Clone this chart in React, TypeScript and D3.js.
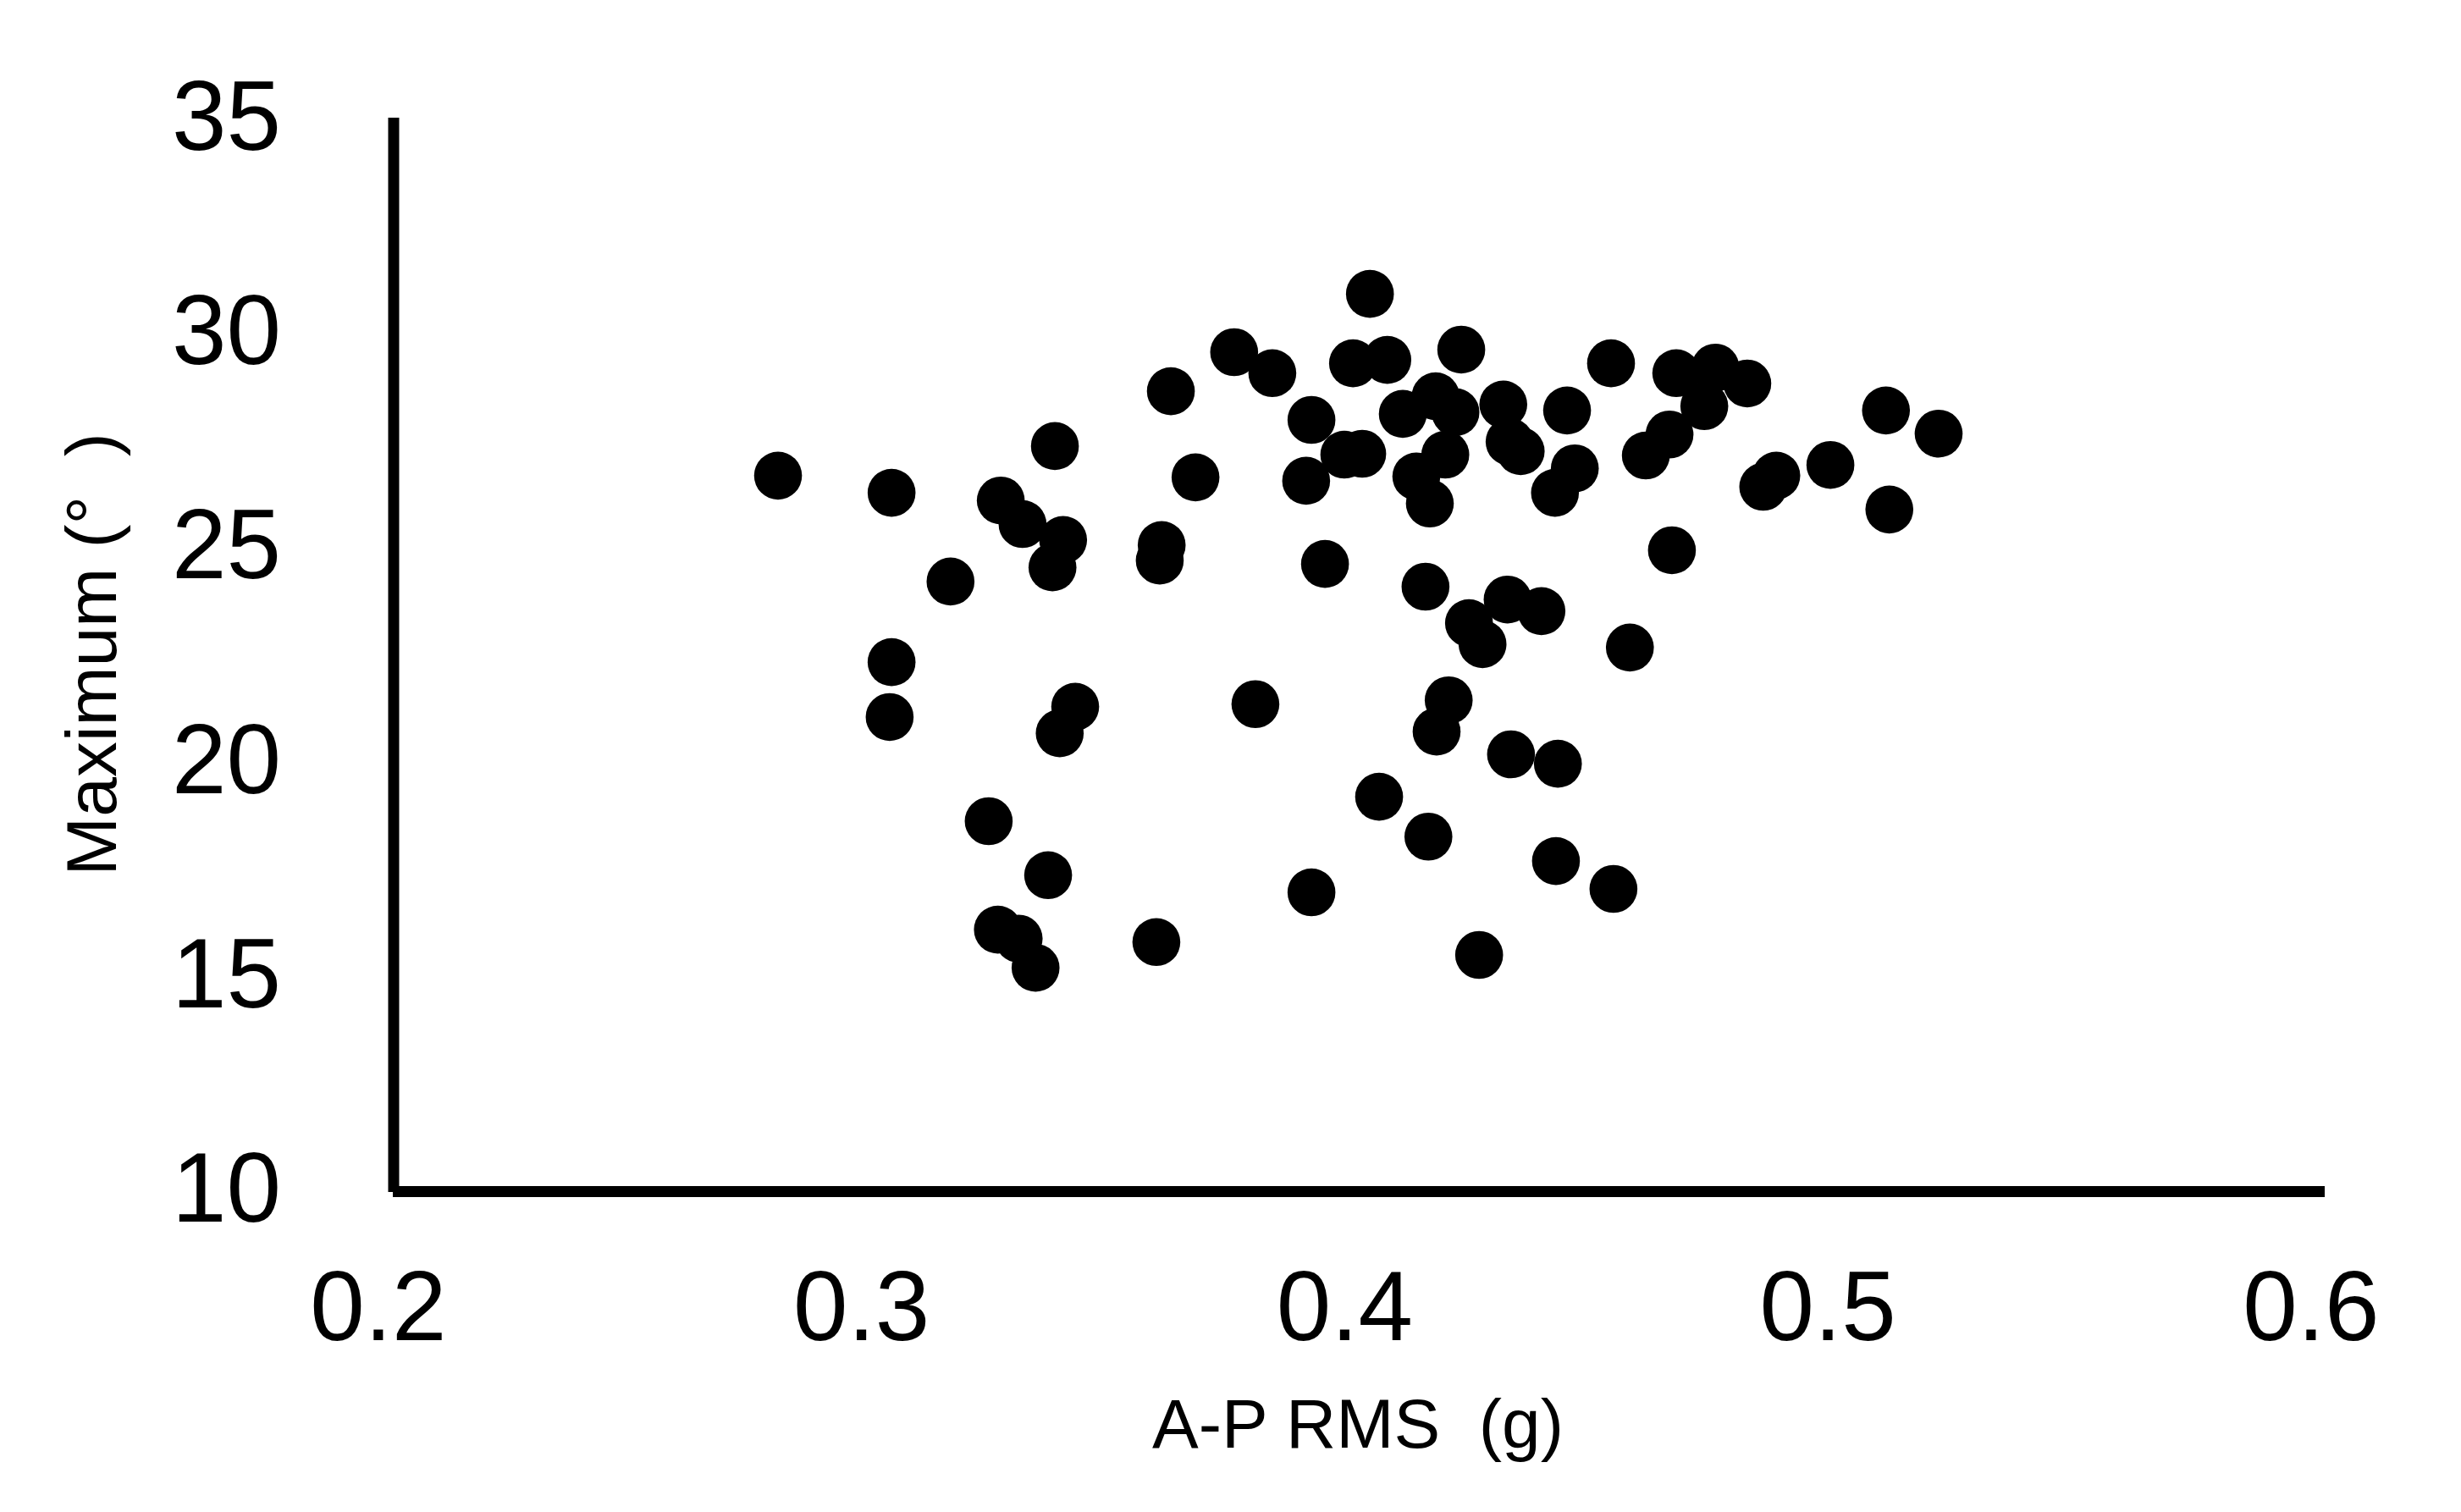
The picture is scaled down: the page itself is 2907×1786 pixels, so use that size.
import React from 'react'
import * as d3 from 'd3'

// A-P RMS (g) for each subject
const apRms = [
    0.2799, 0.3034, 0.3156, 0.3034, 0.3030, 0.3235, 0.3260, 0.3305, 0.3372, 0.3389,
    0.3367, 0.3414, 0.3382, 0.3358, 0.3254, 0.3297, 0.3332, 0.3612, 0.3743, 0.3822,
    0.3663, 0.3593, 0.3589, 0.3582, 0.3787, 0.3903, 0.3903, 0.3892, 0.3931, 0.4024,
    0.3989, 0.4060, 0.3971, 0.4008, 0.4092, 0.4120, 0.4160, 0.4201, 0.4180, 0.4148,
    0.4213, 0.4139, 0.4229, 0.4257, 0.4187, 0.4162, 0.4043, 0.4145, 0.4250, 0.4309,
    0.4379, 0.4316, 0.4413, 0.4409, 0.4528, 0.4562, 0.4300, 0.4313, 0.4336, 0.4432,
    0.4407, 0.4448, 0.4523, 0.4595, 0.4644, 0.4658, 0.4716, 0.4739, 0.4805, 0.4649,
    0.4838, 0.4865, 0.4977, 0.5092, 0.5099, 0.5201,
]

// Maximum angle (deg), same order
const maxAngle = [
    26.65, 26.25, 24.18, 22.30, 21.02, 18.59, 26.07, 25.52, 27.34, 25.15,
    24.51, 21.26, 20.64, 17.33, 16.06, 15.85, 15.17, 28.62, 29.53, 29.04,
    26.61, 25.03, 24.67, 15.77, 21.32, 16.93, 27.95, 26.53, 24.59, 30.89,
    29.27, 29.35, 27.14, 27.16, 28.09, 26.63, 28.50, 28.13, 27.14, 26.00,
    29.59, 24.06, 23.21, 22.72, 21.41, 20.68, 19.16, 18.23, 15.47, 23.76,
    23.49, 20.15, 19.93, 17.66, 17.01, 22.64, 28.31, 27.44, 27.22, 28.17,
    26.25, 26.82, 29.27, 27.12, 27.61, 29.04, 28.27, 29.17, 28.80, 24.91,
    26.39, 26.65, 26.90, 28.17, 25.86, 27.63,
]

const xTicks = [0.2, 0.3, 0.4, 0.5, 0.6]
const yTicks = [10, 15, 20, 25, 30, 35]

const xTitle = 'A-P RMS  (g)'
const yTitle = 'Maximum (°  )'

const W = 2907
const H = 1786
const FONT = 'Liberation Sans, Arial, sans-serif'

const App = () => {
    const x = d3.scaleLinear().domain([0.2, 0.6]).range([463, 2746])
    const y = d3.scaleLinear().domain([10, 35]).range([1405, 139])

    const points = apRms.map((v, i) => ({ x: v, y: maxAngle[i] }))

    return (
        <svg width={W} height={H} style={{ position: 'absolute', left: 0, top: 0, background: '#fff' }}>
            <rect width={W} height={H} fill="#fff" />

            {/* axes */}
            <line x1={x(0.2) + 2} x2={x(0.2) + 2} y1={y(35)} y2={y(10) + 3} stroke="#000" strokeWidth={13} />
            <line x1={x(0.2) + 1} x2={x(0.6)} y1={y(10) + 2.5} y2={y(10) + 2.5} stroke="#000" strokeWidth={13} />

            {/* tick labels */}
            <g fontFamily={FONT} fontSize={116} fill="#000">
                {xTicks.map(t => (
                    <text key={t} x={x(t) - 16} y={1583} textAnchor="middle">{d3.format('.1f')(t)}</text>
                ))}
                {yTicks.map(t => (
                    <text key={t} x={332} y={y(t) + 38} textAnchor="end">{t}</text>
                ))}
            </g>

            {/* titles */}
            <text x={1604} y={1710} textAnchor="middle" fontFamily={FONT} fontSize={82}
                style={{ whiteSpace: 'pre' }}>{xTitle}</text>
            <text transform="translate(137, 773) rotate(-90)" textAnchor="middle" fontFamily={FONT} fontSize={84}
                style={{ whiteSpace: 'pre' }}>{yTitle}</text>

            {/* points */}
            <g fill="#000">
                {points.map((d, i) => (
                    <circle key={i} cx={x(d.x)} cy={y(d.y)} r={28.3} />
                ))}
            </g>
        </svg>
    )
}

export default App
